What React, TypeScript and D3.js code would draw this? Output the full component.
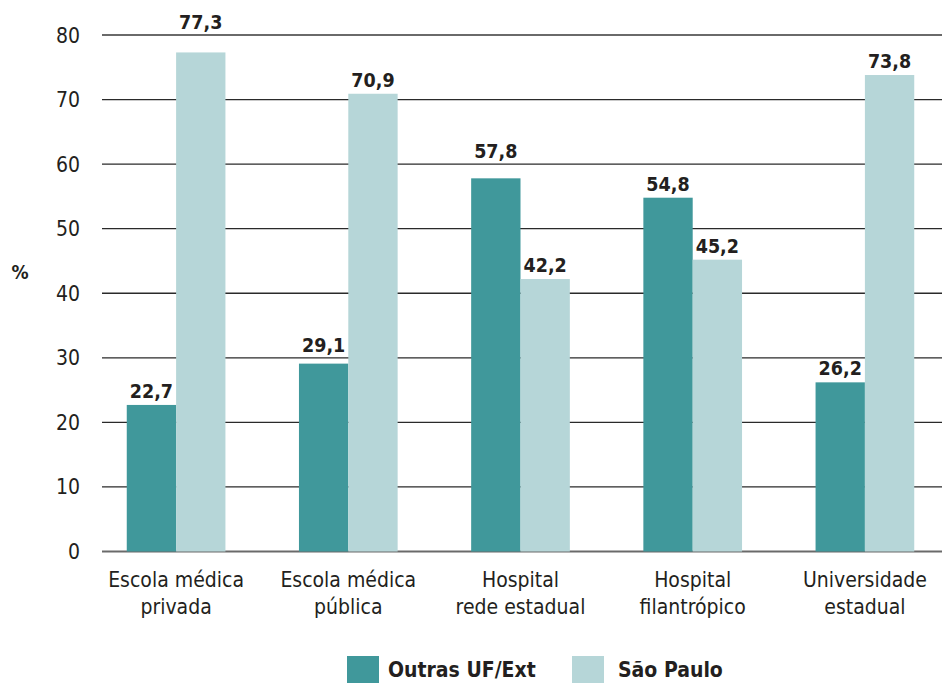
import React, { useEffect, useRef } from "react";
import * as d3 from "d3";

// chart data
const categories = [
  ["Escola médica", "privada"],
  ["Escola médica", "pública"],
  ["Hospital", "rede estadual"],
  ["Hospital", "filantrópico"],
  ["Universidade", "estadual"],
];
const seriesNames = ["Outras UF/Ext", "São Paulo"];
const outrasValues = [22.7, 29.1, 57.8, 54.8, 26.2];
const spValues = [77.3, 70.9, 42.2, 45.2, 73.8];
const yTicks = [0, 10, 20, 30, 40, 50, 60, 70, 80];
const colors = ["#40989b", "#b6d6d8"];

const W = 950;
const H = 683;
const FONT = "'Liberation Sans Narrow', 'DejaVu Sans Condensed', 'Open Sans', sans-serif";

const App = () => {
  const ref = useRef<SVGSVGElement>(null);

  useEffect(() => {
    const svg = d3.select(ref.current);
    svg.selectAll("*").remove();

    const x = d3.scaleBand<number>()
      .domain(d3.range(categories.length))
      .range([90, 951])
      .paddingInner(0)
      .paddingOuter(0);
    const inner = d3.scaleBand<number>()
      .domain([0, 1])
      .range([0, x.bandwidth()])
      .paddingInner(0)
      .paddingOuter(0.745);
    const y = d3.scaleLinear().domain([0, 80]).range([551.5, 35]);

    // grid
    svg.append("g")
      .selectAll("line")
      .data(yTicks)
      .enter()
      .append("line")
      .attr("x1", 102)
      .attr("x2", W)
      .attr("y1", d => y(d))
      .attr("y2", d => y(d))
      .attr("stroke", d => (d === 0 || d === 80 ? "#6a6a6a" : "#2a2a2a"))
      .attr("stroke-width", d => (d === 0 || d === 80 ? 2 : 1.3));

    svg.append("g")
      .selectAll("text")
      .data(yTicks)
      .enter()
      .append("text")
      .attr("x", 80)
      .attr("y", d => y(d))
      .attr("dy", "0.36em")
      .attr("text-anchor", "end")
      .style("font-family", FONT)
      .style("font-size", "21px")
      .style("fill", "#231f20")
      .text(d => d);

    svg.append("text")
      .attr("x", 20)
      .attr("y", 272)
      .attr("dy", "0.36em")
      .attr("text-anchor", "middle")
      .style("font-family", FONT)
      .style("font-size", "19px")
      .style("font-weight", "bold")
      .style("fill", "#231f20")
      .text("%");

    // value label sits above its bar, lifted over a gridline it would cross
    const labelY = (v: number) => {
      let base = y(v) - 7;
      const hit = yTicks.find(t => y(t) > base - 16 && y(t) < base + 3);
      if (hit !== undefined) base = y(hit) - 6;
      return base;
    };

    const rows = categories.map((c, i) => ({ i, vals: [outrasValues[i], spValues[i]] }));
    const group = svg.append("g")
      .selectAll("g.grp")
      .data(rows)
      .enter()
      .append("g")
      .attr("class", "grp")
      .attr("transform", d => `translate(${x(d.i)},0)`);

    const cells = group.selectAll("g.cell")
      .data(d => d.vals.map((v, s) => ({ v, s })))
      .enter()
      .append("g")
      .attr("class", "cell");

    cells.append("rect")
      .attr("x", d => inner(d.s) as number)
      .attr("width", inner.bandwidth())
      .attr("y", d => y(d.v))
      .attr("height", d => y(0) - y(d.v))
      .attr("fill", d => colors[d.s]);

    cells.append("text")
      .attr("x", d => (inner(d.s) as number) + inner.bandwidth() / 2)
      .attr("y", d => labelY(d.v))
      .attr("text-anchor", "middle")
      .style("font-family", FONT)
      .style("font-size", "19.5px")
      .style("font-weight", "bold")
      .style("fill", "#231f20")
      .text(d => d3.format(".1f")(d.v).replace(".", ","));

    // category labels
    const lab = svg.append("g")
      .selectAll("text")
      .data(categories)
      .enter()
      .append("text")
      .attr("text-anchor", "middle")
      .style("font-family", FONT)
      .style("font-size", "21px")
      .style("fill", "#231f20");
    lab.append("tspan")
      .attr("x", (d, i) => (x(i) as number) + x.bandwidth() / 2)
      .attr("y", 587)
      .text(d => d[0]);
    lab.append("tspan")
      .attr("x", (d, i) => (x(i) as number) + x.bandwidth() / 2)
      .attr("y", 614)
      .text(d => d[1]);

    // legend
    const legendX = [347, 572];
    const leg = svg.append("g")
      .selectAll("g")
      .data(seriesNames)
      .enter()
      .append("g")
      .attr("transform", (d, i) => `translate(${legendX[i]},656)`);
    leg.append("rect")
      .attr("width", 32)
      .attr("height", 27)
      .attr("fill", (d, i) => colors[i]);
    leg.append("text")
      .attr("x", (d, i) => (i === 0 ? 41 : 46))
      .attr("y", 21)
      .style("font-family", FONT)
      .style("font-size", "21px")
      .style("font-weight", "bold")
      .style("fill", "#231f20")
      .text(d => d);
  }, []);

  return (
    <div style={{ width: W, height: H }}>
      <svg ref={ref} width={W} height={H} style={{ display: "block", marginTop: -8, marginLeft: -8 }} />
    </div>
  );
};

export default App;

// eof
